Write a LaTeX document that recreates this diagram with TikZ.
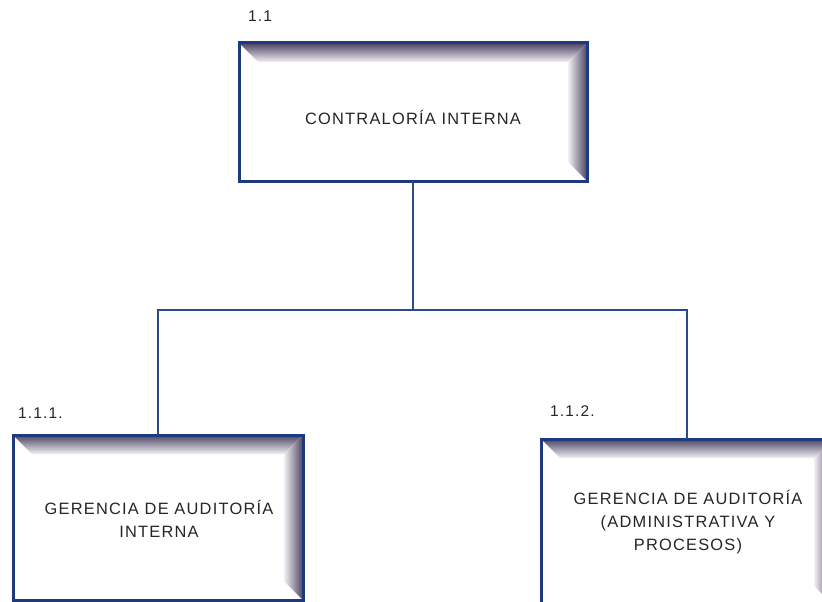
\documentclass[tikz,border=0pt]{standalone}
\usepackage{fontspec}
\setmainfont{Liberation Sans}[LetterSpace=7.5]
\usetikzlibrary{calc}
\definecolor{boxblue}{HTML}{1E3A7E}
\definecolor{lineblue}{HTML}{2C4A8A}
\definecolor{bevdark}{HTML}{4C4462}
\definecolor{bevlight}{HTML}{F2F0F5}
\definecolor{txt}{HTML}{262626}
\tikzset{
  orgbox/.style={rectangle, inner sep=0pt, fill=white,
    path picture={
      \path (path picture bounding box.north west) coordinate (pNW)
            (path picture bounding box.north east) coordinate (pNE)
            (path picture bounding box.south east) coordinate (pSE);
      \shade[top color=bevdark, bottom color=bevlight]
        (pNW) -- (pNE) -- ([xshift=-19pt,yshift=-19pt]pNE) -- ([xshift=19pt,yshift=-19pt]pNW) -- cycle;
      \shade[left color=bevlight, right color=bevdark]
        (pNE) -- (pSE) -- ([xshift=-19pt,yshift=19pt]pSE) -- ([xshift=-19pt,yshift=-19pt]pNE) -- cycle;
    },
    postaction={draw=boxblue, line width=3pt}},
  boxtext/.style={text=txt, align=center, inner sep=0pt,
    font=\fontsize{16.4}{22.8}\selectfont},
  lbl/.style={text=txt, anchor=west, inner sep=0pt,
    font=\fontsize{15.5}{18}\selectfont},
  conn/.style={draw=lineblue, line width=1.3pt}
}
\begin{document}
\begin{tikzpicture}[x=1pt,y=-1pt]
\useasboundingbox (0,0) rectangle (822,602);
\clip (0,0) rectangle (822,602);
\fill[white] (0,0) rectangle (822,602);

\node[orgbox, minimum width=348pt, minimum height=138pt] (top) at (413,112) {};
\node[boxtext] (toptext) at (413,117) {CONTRALORÍA INTERNA};

\node[orgbox, minimum width=290pt, minimum height=165pt] (left) at (158,517.5) {};
\node[boxtext] (lefttext) at (159,518.5) {GERENCIA DE AUDITORÍA\\INTERNA};

\node[orgbox, minimum width=292pt, minimum height=166pt] (right) at (687,522) {};
\node[boxtext] (righttext) at (688,522) {GERENCIA DE AUDITORÍA\\(ADMINISTRATIVA Y\\PROCESOS)};

\node[lbl] (ltop) at (248,16) {1.1};
\node[lbl] (lleft) at (18,413) {1.1.1.};
\node[lbl] (lright) at (550,411) {1.1.2.};

\coordinate (hub) at (413,310);
\draw[conn] (top.south) -- (hub);
\draw[conn] (left.north) -- (left.north |- hub) -- (right.north |- hub) -- (right.north);
\end{tikzpicture}
\end{document}
